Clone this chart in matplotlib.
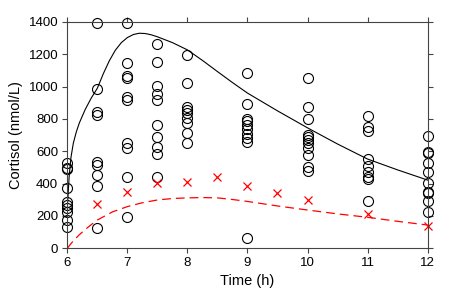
import numpy as np
import matplotlib
matplotlib.use("Agg")
from matplotlib import pyplot as plt

plt.rcParams['font.family'] = ['Liberation Sans', 'DejaVu Sans']

# observed cortisol per sampling time (open circles)
obs_t = [6, 6.5, 7, 7.5, 8, 9, 10, 11, 12]
obs_vals = [
    [530, 495, 489, 371, 288, 268, 247, 226, 175, 130],
    [1396, 984, 845, 825, 536, 515, 453, 387, 124],
    [1396, 1145, 1066, 1056, 934, 918, 650, 619, 443, 192],
    [1262, 1155, 1006, 953, 918, 763, 687, 629, 583, 439],
    [1196, 1020, 876, 856, 835, 804, 777, 711, 650],
    [1087, 890, 800, 785, 765, 740, 710, 680, 655, 62],
    [1052, 876, 800, 701, 687, 670, 650, 619, 577, 505, 480],
    [820, 752, 727, 552, 509, 474, 443, 427, 293],
    [695, 594, 588, 526, 474, 402, 350, 340, 293, 226],
]

# mean values (red crosses)
mean_t = [6.5, 7, 7.5, 8, 8.5, 9, 9.5, 10, 11, 12]
mean_vals = [272, 346, 402, 412, 443, 387, 340, 299, 212, 140]

# model curves
fit_t = [6.0, 6.03, 6.06, 6.1, 6.15, 6.2, 6.3, 6.4, 6.5, 6.6, 6.7, 6.8,
         6.9, 7.0, 7.1, 7.2, 7.3, 7.4, 7.5, 7.75, 8.0, 8.25, 8.5, 8.75,
         9.0, 9.5, 10.0, 10.5, 11.0, 11.5, 12.0]
fit_vals = [250, 440, 560, 650, 720, 775, 860, 930, 990, 1080, 1160, 1225,
            1272, 1303, 1322, 1330, 1328, 1320, 1308, 1272, 1227, 1162, 1093,
            1025, 960, 850, 745, 645, 552, 485, 422]

low_t = [6.0, 6.05, 6.1, 6.2, 6.3, 6.4, 6.5, 6.75, 7.0, 7.25, 7.5, 7.75,
         8.0, 8.25, 8.5, 8.75, 9.0, 9.5, 10.0, 10.5, 11.0, 11.5, 12.0]
low_vals = [0, 24, 46, 84, 117, 147, 175, 225, 258, 282, 299, 308,
            312, 314, 312, 302, 290, 262, 237, 213, 192, 167, 144]

fig = plt.figure(figsize=(4.72, 2.96), dpi=100)
ax = fig.add_axes([0.1426, 0.161, 0.7634, 0.765])

for t, vals in zip(obs_t, obs_vals):
    ax.plot([t] * len(vals), vals, 'o', mfc='none', mec='black',
            ms=7.2, mew=0.8, clip_on=False)

ax.plot(fit_t, fit_vals, color='black', lw=0.8)
ax.plot(low_t, low_vals, color='red', lw=0.9, linestyle=(0, (7, 4)))
ax.plot(mean_t, mean_vals, 'x', color='red', ms=5.5, mew=0.9, clip_on=False)

ax.set_xlim(6, 12)
ax.set_ylim(0, 1400)
ax.set_xticks(range(6, 13))
ax.set_yticks(range(0, 1401, 200))
ax.tick_params(direction='out', length=3.5, width=0.8, color='#444444',
               labelsize=9.5, top=True, right=True, pad=3)
for s in ax.spines.values():
    s.set_linewidth(0.8)
    s.set_color('#444444')

ax.set_xlabel('Time (h)', fontsize=10.5, labelpad=3)
ax.set_ylabel('Cortisol (nmol/L)', fontsize=10.5, labelpad=4)

fig.savefig('out.png', dpi=100)
